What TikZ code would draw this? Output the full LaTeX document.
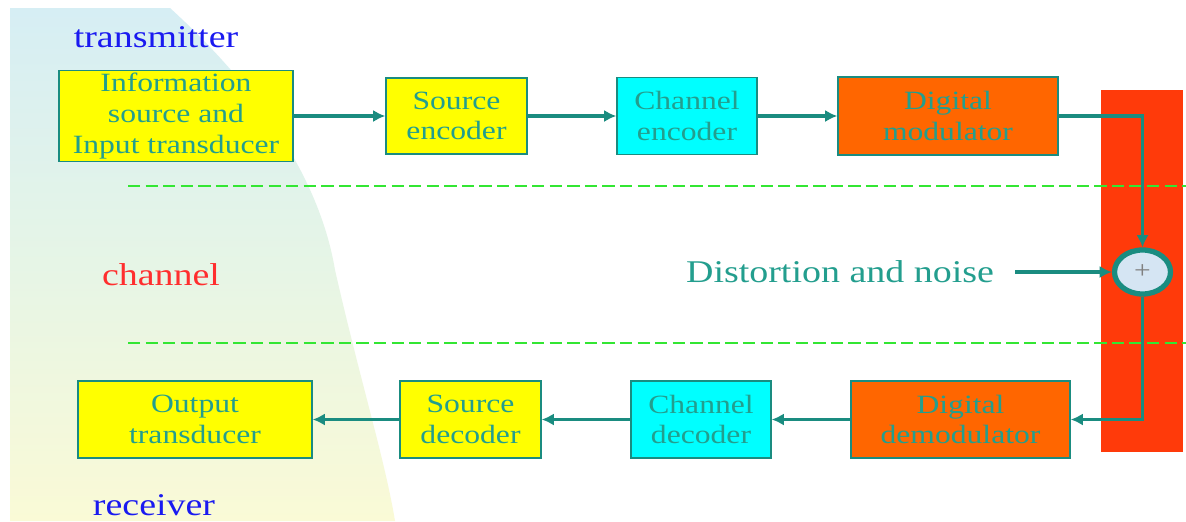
\documentclass[tikz,border=0pt]{standalone}
\usepackage{fontspec}
\setmainfont[FakeStretch=1.2]{Liberation Serif}
\usetikzlibrary{shapes.geometric,arrows.meta,calc}
\definecolor{tealtxt}{HTML}{239E8E}
\definecolor{tealarr}{HTML}{1A8C80}
\definecolor{boxyel}{HTML}{FFFF00}
\definecolor{boxcyan}{HTML}{00FFFF}
\definecolor{boxorange}{HTML}{FF6600}
\definecolor{redbar}{HTML}{FF3A0A}
\definecolor{dashgreen}{HTML}{33E633}
\definecolor{lblblue}{HTML}{1A1AF0}
\definecolor{lblred}{HTML}{FF2E2E}
\definecolor{bgblue}{HTML}{D6EEF4}
\definecolor{bgmid}{HTML}{E6F5E6}
\definecolor{bgyel}{HTML}{FAFAD6}
\definecolor{plusfill}{HTML}{D5E5F3}
\begin{document}
\begin{tikzpicture}[x=0.02cm,y=-0.02cm,
  blk/.style={draw=tealarr, line width=0.8pt, align=center, text=tealtxt,
    font=\rmfamily\fontsize{15}{17.5}\selectfont, inner sep=0pt},
  conn/.style={draw=tealarr, line width=2.2pt, -{Latex[length=7pt,width=7pt]}},
  lbl/.style={font=\rmfamily\fontsize{18}{20}\selectfont, inner sep=0pt},
  sep/.style={draw=dashgreen, line width=0.7pt, dash pattern=on 7pt off 3pt}
]
\useasboundingbox (0,0) rectangle (1186,521);
\fill[white] (0,0) rectangle (1186,521);
% background
\shade[top color=bgblue, bottom color=bgyel, middle color=bgmid]
  (10,8) -- (170,8) .. controls (260,90) and (320,180) .. (335,270)
  .. controls (360,380) and (385,460) .. (395,521) -- (10,521) -- cycle;
% red bar
\fill[redbar] (1101,90) rectangle (1183,452);
% dashed separators
\draw[sep] (128,186) -- (1186,186);
\draw[sep] (128,343) -- (1186,343);
% labels
\node[lbl, text=lblblue] (tx) at (156,37) {transmitter};
\node[lbl, text=lblred] (ch) at (161,275) {channel};
\node[lbl, text=lblblue] (rx) at (154,505) {receiver};
% top row
\node[blk, fill=boxyel, minimum width=4.68cm, minimum height=1.82cm] (info) at (176,116)
  {Information\\source and\\Input transducer};
\node[blk, fill=boxyel, minimum width=2.82cm, minimum height=1.52cm] (senc) at (456.5,116)
  {Source\\encoder};
\node[blk, fill=boxcyan, minimum width=2.80cm, minimum height=1.54cm] (cenc) at (687,116)
  {Channel\\encoder};
\node[blk, fill=boxorange, minimum width=4.40cm, minimum height=1.56cm] (mod) at (948,116)
  {Digital\\modulator};
% bottom row
\node[blk, fill=boxyel, minimum width=4.68cm, minimum height=1.54cm] (out) at (195,419.5)
  {Output\\transducer};
\node[blk, fill=boxyel, minimum width=2.82cm, minimum height=1.54cm] (sdec) at (470.5,419.5)
  {Source\\decoder};
\node[blk, fill=boxcyan, minimum width=2.80cm, minimum height=1.54cm] (cdec) at (701,419.5)
  {Channel\\decoder};
\node[blk, fill=boxorange, minimum width=4.38cm, minimum height=1.54cm] (dem) at (960.5,419.5)
  {Digital\\demodulator};
% adder
\node[ellipse, draw=tealarr, line width=3pt, fill=plusfill, minimum width=1.12cm,
  minimum height=0.88cm, inner sep=0pt, text=gray, font=\fontsize{14}{14}\selectfont] (plus) at (1142.5,272) {+};
% noise
\node[lbl, text=tealtxt] (noise) at (840,272) {Distortion and noise};
% connectors
\draw[conn] (info.east) -- (senc.west);
\draw[conn] (senc.east) -- (cenc.west);
\draw[conn] (cenc.east) -- (mod.west);
\draw[conn] (mod.east) -| (plus.north);
\draw[conn, shorten <=12pt] (noise.east) -- (plus.west);
\draw[conn] (plus.south) |- (dem.east);
\draw[conn] (dem.west) -- (cdec.east);
\draw[conn] (cdec.west) -- (sdec.east);
\draw[conn] (sdec.west) -- (out.east);
\end{tikzpicture}
\end{document}
